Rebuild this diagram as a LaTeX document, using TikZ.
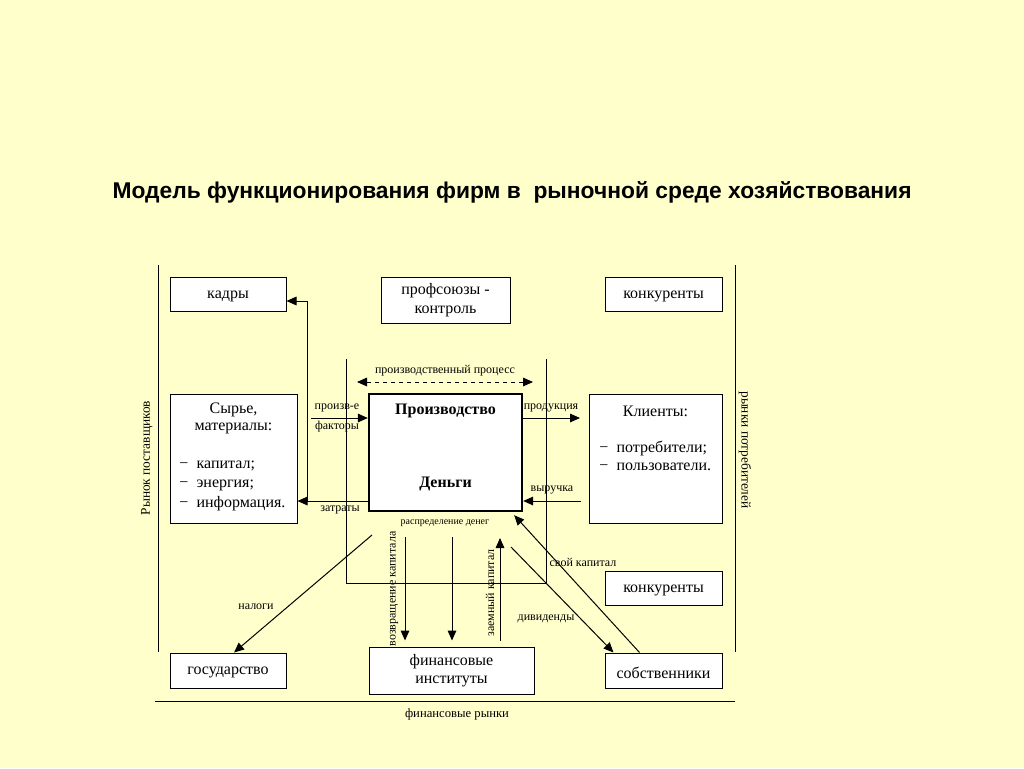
\documentclass[tikz,border=0pt]{standalone}
\usepackage{fontspec}
\setmainfont{Liberation Serif}
\newfontfamily\titlefont{Liberation Sans}
\usetikzlibrary{arrows.meta,calc}
\definecolor{bg}{RGB}{255,255,204}
\begin{document}
\begin{tikzpicture}[x=0.75pt,y=-0.75pt,
  box/.style={draw, fill=white, line width=0.75pt, rectangle, inner sep=0pt, align=center,
    font=\fontsize{12}{14}\selectfont},
  txt/.style={inner sep=0pt, font=\fontsize{12}{14}\selectfont},
  lbl/.style={inner sep=0pt, font=\fontsize{9}{10}\selectfont},
  arr/.style={line width=0.75pt, -{Triangle[length=7.5pt,width=6.5pt]}},
  thinline/.style={line width=0.75pt}]
\fill[bg] (0,0) rectangle (1024,768);
\useasboundingbox (0,0) rectangle (1024,768);

% title
\node[inner sep=0pt, font=\titlefont\bfseries\fontsize{17.1}{20}\selectfont] (title) at (512,192)
  {Модель функционирования фирм в\ \ рыночной среде хозяйствования};

% outer market lines
\draw[thinline] (158,265) -- (158,652);
\draw[thinline] (735,265) -- (735,652);
\draw[thinline] (155,701) -- (735,701);
\node[lbl, font=\fontsize{9.5}{11}\selectfont] (finm) at (457,714) {финансовые рынки};
\node[lbl, rotate=90, font=\fontsize{10}{11}\selectfont] (rpost) at (147,458) {Рынок поставщиков};
\node[lbl, rotate=-90, font=\fontsize{10}{11}\selectfont] (rpotr) at (745,450) {рынки потребителей};

% inner frame
\draw[thinline] (346,359) -- (346,583) -- (546,583) -- (546,359);

% boxes
\node[box, minimum width=87pt, minimum height=25.5pt] (kadry) at (228,294) {};
\node[box, minimum width=96.75pt, minimum height=34.5pt] (prof) at (445.5,300) {профсоюзы -\\контроль};
\node[box, minimum width=87.75pt, minimum height=25.5pt] (konk1) at (663.5,294) {};
\node[box, minimum width=95.25pt, minimum height=96.75pt] (syr) at (233.5,458.5) {};
\node[box, line width=1.8pt, minimum width=114.75pt, minimum height=87.75pt] (prod) at (445.5,452.5) {};
\node[box, minimum width=99.75pt, minimum height=96.75pt] (klient) at (655.5,458.5) {};
\node[box, minimum width=87.75pt, minimum height=25.5pt] (konk2) at (663.5,588) {};
\node[box, minimum width=87pt, minimum height=26.25pt] (gos) at (228,670.5) {};
\node[box, minimum width=123.75pt, minimum height=35.25pt] (fin) at (451.5,670.5) {финансовые\\институты};
\node[box, minimum width=87.75pt, minimum height=26.25pt] (sobs) at (663.5,670.5) {};

% box contents
\node[txt] (kadryt) at (228,296) {кадры};
\node[txt] (konk1t) at (663.5,296) {конкуренты};
\node[txt] (konk2t) at (663.5,590) {конкуренты};
\node[txt] (gost) at (228,672.5) {государство};
\node[txt] (sobst) at (663.5,672.5) {собственники};
\node[txt] (s1) at (233.5,410) {Сырье,};
\node[txt] (s2) at (233.5,428) {материалы:};
\node[txt, anchor=west] (s3) at (179,466) {\makebox[13pt][l]{−}капитал;};
\node[txt, anchor=west] (s4) at (179,485) {\makebox[13pt][l]{−}энергия;};
\node[txt, anchor=west] (s5) at (179,504) {\makebox[13pt][l]{−}информация.};
\node[txt, font=\bfseries\fontsize{12}{14}\selectfont] (p1) at (445.5,411) {Производство};
\node[txt, font=\bfseries\fontsize{12}{14}\selectfont] (p2) at (445.5,484) {Деньги};
\node[txt] (k1) at (655.5,411) {Клиенты:};
\node[txt, anchor=west] (k2) at (599,448) {\makebox[13pt][l]{−}потребители;};
\node[txt, anchor=west] (k3) at (599,467) {\makebox[13pt][l]{−}пользователи.};

% production process dashed arrow
\coordinate (dp1) at (357,382);
\coordinate (dp2) at (533,382);
\draw[thinline, dashed, {Triangle[length=7.5pt,width=6.5pt]}-{Triangle[length=7.5pt,width=6.5pt]}] (dp1) -- (dp2);
\node[lbl] (lpp) at (445,371) {производственный процесс};

% factors
\coordinate (fk) at (311,418);
\draw[arr] (fk) -- (fk -| prod.west);
\node[lbl] (lf1) at (337,408) {произв-е};
\node[lbl] (lf2) at (337,427) {факторы};

% product
\coordinate (pr) at (580,418);
\draw[arr] (pr -| prod.east) -- (pr);
\node[lbl] (lpr) at (551,408) {продукция};

% revenue
\coordinate (vy) at (581,501);
\draw[arr] (vy) -- (vy -| prod.east);
\node[lbl] (lvy) at (552,490) {выручка};

% costs
\coordinate (zt) at (307,501);
\coordinate (zk) at (307,301);
\draw[arr] (zt -| prod.west) -- (zt -| syr.east);
\draw[arr] (zt) -- (zk) -- (zk -| kadry.east);
\node[lbl] (lzt) at (340,510) {затраты};

\node[lbl, font=\fontsize{7.5}{9}\selectfont] (lrd) at (445,523) {распределение денег};

% taxes
\coordinate (n1) at (372,535);
\draw[arr] (n1) -- ($(gos.north)+(6,0)$);
\node[lbl] (lnal) at (256,607) {налоги};

% return of capital
\coordinate (v1) at (405,537);
\draw[arr, shorten >=4.5pt] (v1) -- (v1 |- fin.north);
\node[lbl, rotate=90] (lvk) at (394,589) {возвращение капитала};
\coordinate (v2) at (452,537);
\draw[arr, shorten >=4.5pt] (v2) -- (v2 |- fin.north);

% borrowed capital
\coordinate (z1) at (500,538);
\draw[arr, shorten <=4.5pt] (z1 |- fin.north) -- (z1);
\node[lbl, rotate=90] (lzk) at (490,593) {заемный капитал};

% dividends
\coordinate (d1) at (511,547);
\draw[arr] (d1) -- ($(sobs.north west)+(9,0)$);
\node[lbl] (ldiv) at (546,619) {дивиденды};

% own capital
\draw[arr] ($(sobs.north west)+(35,0)$) -- ($(prod.south east)+(-9,3)$);
\node[lbl] (lsk) at (583,562) {свой капитал};
\end{tikzpicture}
\end{document}
